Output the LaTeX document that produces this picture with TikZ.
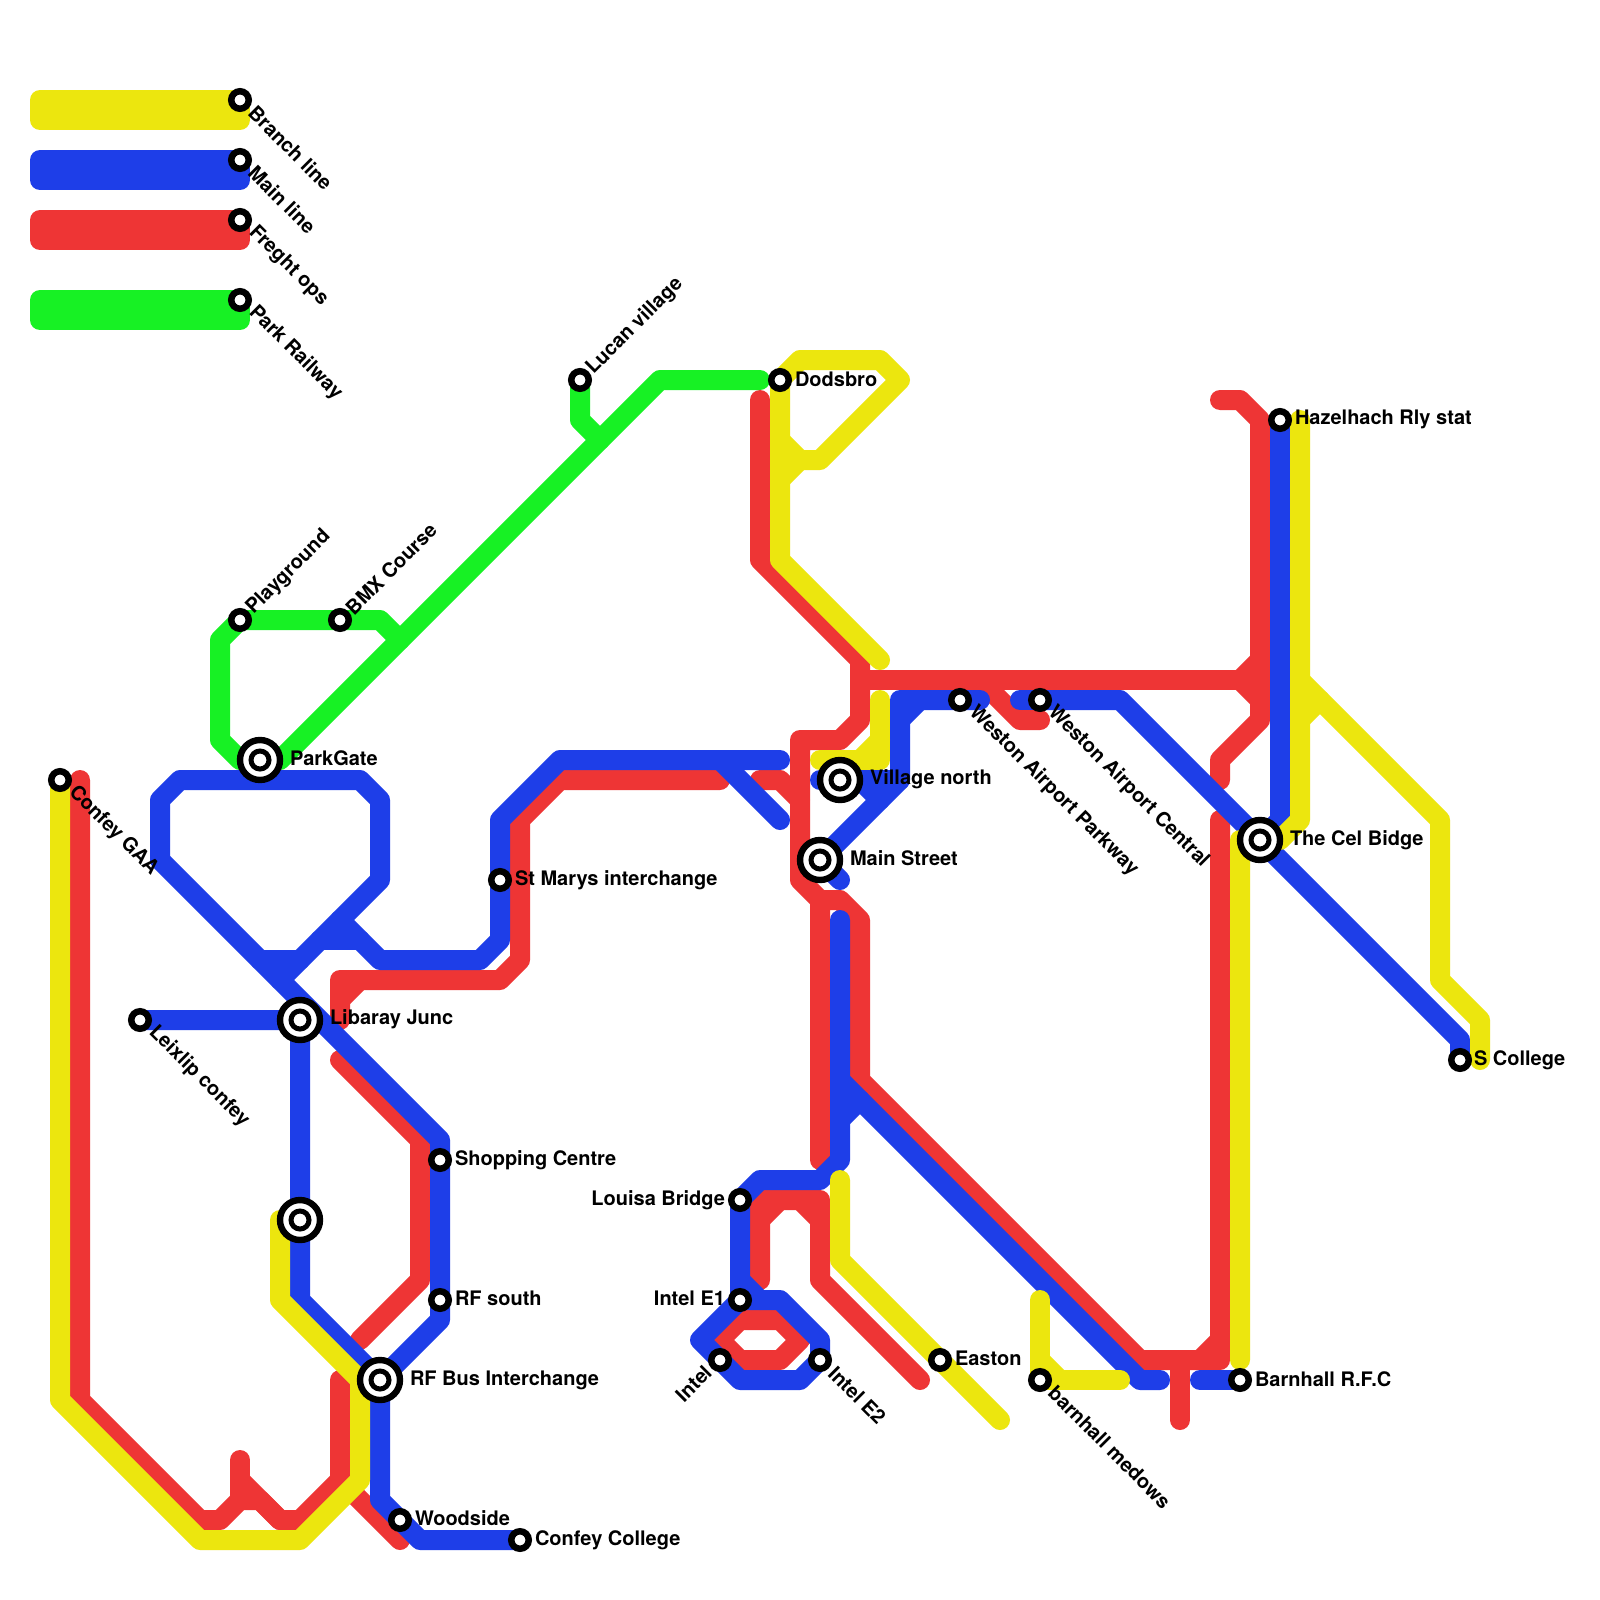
\documentclass[tikz,border=0pt]{standalone}
\usepackage{fontspec}
\setmainfont{TeX Gyre Heros}
\definecolor{lyellow}{RGB}{236,230,14}
\definecolor{lblue}{RGB}{30,62,232}
\definecolor{lred}{RGB}{238,53,53}
\definecolor{lgreen}{RGB}{23,241,36}
\tikzset{
  rail/.style={line width=20pt,line cap=round,line join=round},
  ry/.style={rail,draw=lyellow},
  rb/.style={rail,draw=lblue},
  rr/.style={rail,draw=lred},
  rg/.style={rail,draw=lgreen},
  stn/.style={circle,draw=black,fill=white,line width=6.5pt,minimum size=17.5pt,inner sep=0pt,outer sep=0pt},
  ichg/.style={circle,draw=black,fill=white,line width=6.4pt,minimum size=40pt,inner sep=0pt,outer sep=0pt},
  ichgin/.style={circle,draw=black,fill=white,line width=5pt,minimum size=18pt,inner sep=0pt,outer sep=0pt},
  lab/.style={inner sep=0pt,outer sep=0pt,font=\fontsize{20}{24}\selectfont\bfseries,text=black},
  labr/.style={lab,anchor=west},
  labl/.style={lab,anchor=east},
  labdown/.style={lab,anchor=west,rotate=-45},
  labup/.style={lab,anchor=west,rotate=45},
  labdl/.style={lab,anchor=east,rotate=45},
}
\newcommand{\interch}[2]{\node[ichg] (#1) at (#2) {};\node[ichgin] (#1-in) at (#2) {};}
\begin{document}
\begin{tikzpicture}[x=1pt,y=-1pt]
\useasboundingbox (0,0) rectangle (1600,1600);
\fill[white] (0,0) rectangle (1600,1600);
% station positions
\coordinate (pBranch) at (240,100);
\coordinate (pMain) at (240,160);
\coordinate (pFreght) at (240,220);
\coordinate (pPark) at (240,300);
\coordinate (pLucan) at (580,380);
\coordinate (pDods) at (780,380);
\coordinate (pHazel) at (1280,420);
\coordinate (pPlay) at (240,620);
\coordinate (pBMX) at (340,620);
\coordinate (pWAP) at (960,700);
\coordinate (pWAC) at (1040,700);
\coordinate (pParkGate) at (260,760);
\coordinate (pConfeyGAA) at (60,780);
\coordinate (pVillage) at (840,780);
\coordinate (pCel) at (1260,840);
\coordinate (pMainSt) at (820,860);
\coordinate (pStMarys) at (500,880);
\coordinate (pLeix) at (140,1020);
\coordinate (pLib) at (300,1020);
\coordinate (pSCollege) at (1460,1060);
\coordinate (pShop) at (440,1160);
\coordinate (pLouisa) at (740,1200);
\coordinate (pUnnamed) at (300,1220);
\coordinate (pIntelE1) at (740,1300);
\coordinate (pRFs) at (440,1300);
\coordinate (pIntel) at (720,1360);
\coordinate (pIntelE2) at (820,1360);
\coordinate (pEaston) at (940,1360);
\coordinate (pRFBus) at (380,1380);
\coordinate (pBarnM) at (1040,1380);
\coordinate (pBarnR) at (1240,1380);
\coordinate (pWood) at (400,1520);
\coordinate (pCollege) at (520,1540);
% legend
\draw[ry,fill=lyellow] (40,100) -- (pBranch) -- (240,120) -- (40,120) -- cycle;
\draw[rb,fill=lblue] (40,160) -- (pMain) -- (240,180) -- (40,180) -- cycle;
\draw[rr,fill=lred] (40,220) -- (pFreght) -- (240,240) -- (40,240) -- cycle;
\draw[rg,fill=lgreen] (40,300) -- (pPark) -- (240,320) -- (40,320) -- cycle;
% red lines
\draw[rr] (80,780) -- (80,1400) -- (200,1520) -- (220,1520) -- (240,1500) -- (260,1500) -- (280,1520) -- (300,1520) -- (340,1480) -- (340,1380);
\draw[rr] (240,1460) -- (240,1500);
\draw[rr] (240,1480) -- (280,1520);
\draw[rr] (340,1480) -- (400,1540);
\draw[rr] (340,1020) -- (340,980) -- (500,980) -- (520,960) -- (520,820) -- (560,780) -- (720,780);
\draw[rr] (340,1000) -- (360,980);
\draw[rr] (340,1060) -- (420,1140) -- (420,1280) -- (360,1340);
\draw[rr] (760,400) -- (760,560) -- (860,660) -- (860,720) -- (840,740) -- (800,740) -- (800,880) -- (820,900) -- (820,1160);
\draw[rr] (820,900) -- (840,900) -- (860,920) -- (860,1080) -- (1140,1360) -- (1220,1360) -- (1220,820);
\draw[rr] (1200,1360) -- (1220,1340);
\draw[rr] (1180,1360) -- (1180,1420);
\draw[rr] (760,780) -- (780,780) -- (800,800);
\draw[rr] (860,680) -- (1240,680);
\draw[rr] (980,680) -- (1020,720) -- (1040,720);
\draw[rr] (1220,400) -- (1240,400) -- (1260,420) -- (1260,720) -- (1220,760) -- (1220,780);
\draw[rr] (1240,680) -- (1260,660);
\draw[rr] (1240,680) -- (1260,700);
\draw[rr] (760,1280) -- (760,1200) -- (820,1200) -- (820,1280) -- (920,1380);
\draw[rr] (760,1220) -- (780,1200);
\draw[rr] (800,1200) -- (820,1220);
\draw[rr] (720,1340) -- (740,1320) -- (780,1320) -- (800,1340) -- (780,1360) -- (740,1360) -- cycle;
% blue lines
\draw[rb] (160,860) -- (160,800) -- (180,780) -- (360,780) -- (380,800) -- (380,880) -- (280,980);
\draw[rb] (160,860) -- (440,1140) -- (pShop) -- (pRFs) -- (440,1320) -- (pRFBus);
\draw[rb] (260,960) -- (300,960);
\draw[rb] (320,940) -- (360,940);
\draw[rb] (340,920) -- (380,960) -- (480,960) -- (500,940) -- (pStMarys) -- (500,820) -- (560,760) -- (780,760);
\draw[rb] (720,760) -- (780,820);
\draw[rb] (pLeix) -- (pLib) -- (pUnnamed) -- (300,1300) -- (pRFBus) -- (380,1500) -- (pWood) -- (420,1540) -- (pCollege);
\draw[rb] (980,700) -- (pWAP) -- (900,700) -- (900,780) -- (pMainSt) -- (840,880);
\draw[rb] (920,700) -- (900,720);
\draw[rb] (820,780) -- (900,780);
\draw[rb] (860,780) -- (880,800);
\draw[rb] (pWAC) -- (1020,700);
\draw[rb] (pWAC) -- (1120,700) -- (pCel) -- (1460,1040) -- (pSCollege);
\draw[rb] (pHazel) -- (1280,820) -- (pCel);
\draw[rb] (840,920) -- (840,1160) -- (820,1180) -- (760,1180) -- (pLouisa) -- (pIntelE1);
\draw[rb] (740,1280) -- (760,1300);
\draw[rb] (840,1080) -- (1140,1380) -- (1160,1380);
\draw[rb] (840,1120) -- (860,1100);
\draw[rb] (1200,1380) -- (pBarnR);
\draw[rb] (pIntelE1) -- (780,1300) -- (820,1340) -- (pIntelE2) -- (800,1380) -- (740,1380) -- (pIntel) -- (700,1340) -- cycle;
% yellow lines
\draw[ry] (pConfeyGAA) -- (60,1400) -- (200,1540) -- (300,1540) -- (360,1480) -- (360,1380) -- (280,1300) -- (280,1220);
\draw[ry] (pDods) -- (780,560) -- (880,660);
\draw[ry] (pDods) -- (800,360) -- (880,360) -- (900,380) -- (820,460) -- (800,460) -- (780,440);
\draw[ry] (800,460) -- (780,480);
\draw[ry] (880,700) -- (880,760) -- (820,760);
\draw[ry] (860,760) -- (880,740);
\draw[ry] (840,1180) -- (840,1260) -- (pEaston) -- (1000,1420);
\draw[ry] (1040,1300) -- (pBarnM) -- (1120,1380);
\draw[ry] (1040,1360) -- (1060,1380);
\draw[ry] (1300,420) -- (1300,820) -- (1280,840) -- (1240,840) -- (1240,1360);
\draw[ry] (1300,680) -- (1440,820) -- (1440,980) -- (1480,1020) -- (1480,1060);
\draw[ry] (1320,700) -- (1300,720);
% green lines
\draw[rg] (pLucan) -- (580,420) -- (600,440);
\draw[rg] (pParkGate) -- (280,760) -- (660,380) -- (760,380);
\draw[rg] (pParkGate) -- (240,760) -- (220,740) -- (220,640) -- (pPlay) -- (pBMX) -- (380,620) -- (400,640);
% stations
\foreach \n/\p in {sBranch/pBranch,sMain/pMain,sFreght/pFreght,sPark/pPark,sLucan/pLucan,sDods/pDods,sHazel/pHazel,sPlay/pPlay,sBMX/pBMX,sWAP/pWAP,sWAC/pWAC,sConfeyGAA/pConfeyGAA,sStMarys/pStMarys,sLeix/pLeix,sSCollege/pSCollege,sShop/pShop,sLouisa/pLouisa,sIntelE1/pIntelE1,sRFs/pRFs,sIntel/pIntel,sIntelE2/pIntelE2,sEaston/pEaston,sBarnM/pBarnM,sBarnR/pBarnR,sWood/pWood,sCollege/pCollege}
  {\node[stn] (\n) at (\p) {};}
\interch{iParkGate}{pParkGate}
\interch{iVillage}{pVillage}
\interch{iCel}{pCel}
\interch{iMainSt}{pMainSt}
\interch{iLib}{pLib}
\interch{iUnnamed}{pUnnamed}
\interch{iRFBus}{pRFBus}
% labels
\node[labdown] (tBranch) at ([shift={(12,9.5)}]pBranch) {Branch line};
\node[labdown] (tMain) at ([shift={(12,9.5)}]pMain) {Main line};
\node[labdown] (tFreght) at ([shift={(12,9.5)}]pFreght) {Freght ops};
\node[labdown] (tPark) at ([shift={(12,9.5)}]pPark) {Park Railway};
\node[labdown] (tConfeyGAA) at ([shift={(12,9.5)}]pConfeyGAA) {Confey GAA};
\node[labdown] (tLeix) at ([shift={(12,9.5)}]pLeix) {Leixlip confey};
\node[labdown] (tWAP) at ([shift={(12,9.5)}]pWAP) {Weston Airport Parkway};
\node[labdown] (tWAC) at ([shift={(11,9.5)}]pWAC) {Weston Airport Central};
\node[labdown] (tIntelE2) at ([shift={(12,10)}]pIntelE2) {Intel E2};
\node[labdown] (tBarnM) at ([shift={(12,9.5)}]pBarnM) {barnhall medows};
\node[labup] (tPlay) at ([shift={(10,-9)}]pPlay) {Playground};
\node[labup] (tBMX) at ([shift={(9,-9)}]pBMX) {BMX Course};
\node[labup] (tLucan) at ([shift={(10,-9)}]pLucan) {Lucan village};
\node[labdl] (tIntel) at ([shift={(-12,9)}]pIntel) {Intel};
\node[labr] (tParkGate) at (290,758) {ParkGate};
\node[labr] (tLib) at (330,1019) {Libaray Junc};
\node[labr] (tMainSt) at (850,858) {Main Street};
\node[labr] (tVillage) at (870,779) {Village north};
\node[labr] (tCel) at (1290,840) {The Cel Bidge};
\node[labr] (tRFBus) at (410,1380) {RF Bus Interchange};
\node[labr] (tSCollege) at (1474,1060) {S College};
\node[labr] (tBarnR) at (1255,1379) {Barnhall R.F.C};
\node[labr] (tHazel) at (1295,419) {Hazelhach Rly stat};
\node[labr] (tDods) at (795,379) {Dodsbro};
\node[labr] (tStMarys) at (515,880) {St Marys interchange};
\node[labr] (tShop) at (455,1160) {Shopping Centre};
\node[labr] (tRFs) at (455,1298) {RF south};
\node[labr] (tWood) at (415,1518) {Woodside};
\node[labr] (tCollege) at (535,1540) {Confey College};
\node[labr] (tEaston) at (955,1358) {Easton};
\node[labl] (tLouisa) at (725,1200) {Louisa Bridge};
\node[labl] (tIntelE1) at (725,1298) {Intel E1};
\end{tikzpicture}
\end{document}
